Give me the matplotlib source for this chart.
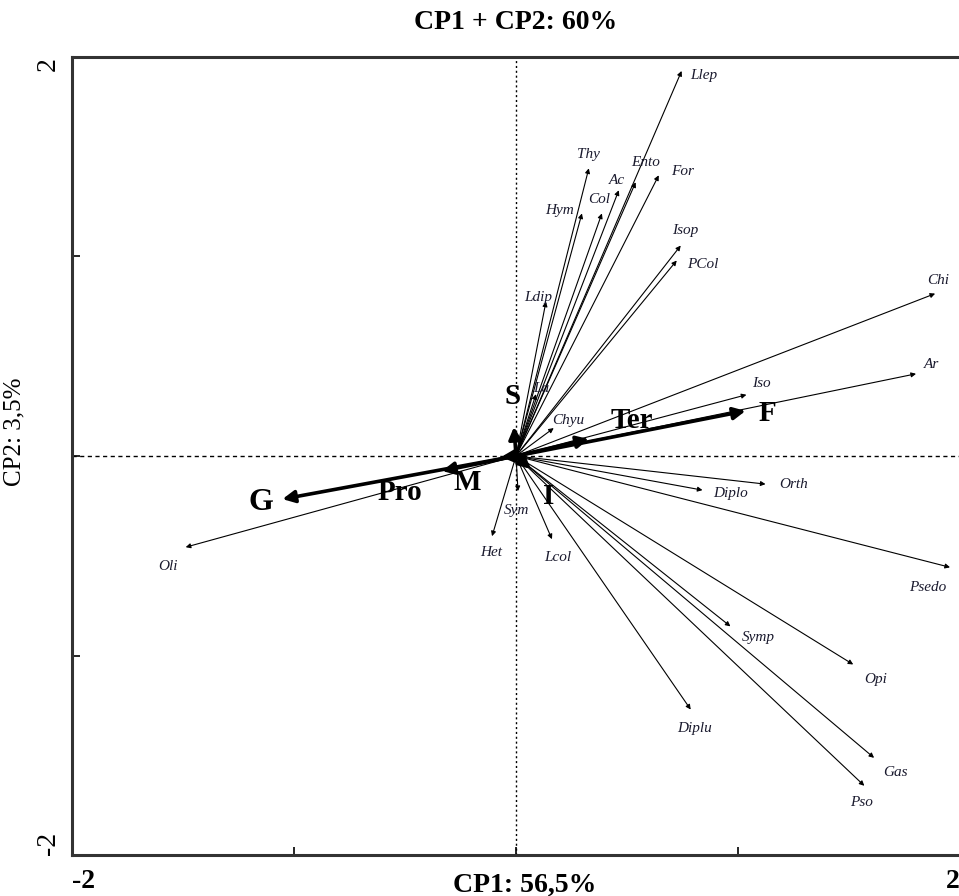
import numpy as np
import matplotlib.pyplot as plt

plt.rcParams['font.family'] = ['Liberation Serif', 'DejaVu Serif']

# species vectors (CP1, CP2)
especies = ['Llep', 'Thy', 'Ento', 'Ac', 'For', 'Col', 'Hym', 'Isop', 'PCol', 'Ldip',
            'Chi', 'Ar', 'Iso', 'Orth', 'Diplo', 'Psedo', 'Symp', 'Opi', 'Diplu',
            'Gas', 'Pso', 'Oli', 'Het', 'Sym', 'Lcol', 'La', 'Chyu']
cp1_esp = [0.746, 0.328, 0.539, 0.463, 0.643, 0.387, 0.297, 0.742, 0.724, 0.135,
           1.888, 1.802, 1.038, 1.124, 0.840, 1.955, 0.966, 1.519, 0.787,
           1.613, 1.569, -1.488, -0.108, 0.009, 0.162, 0.09, 0.17]
cp2_esp = [1.930, 1.442, 1.372, 1.332, 1.407, 1.216, 1.216, 1.055, 0.980, 0.774,
           0.814, 0.412, 0.307, -0.141, -0.171, -0.558, -0.854, -1.045, -1.271,
           -1.513, -1.653, -0.457, -0.402, -0.176, -0.417, 0.31, 0.14]

# environmental variables
variables = ['F', 'Ter', 'S', 'G', 'Pro', 'M', 'I']
cp1_var = [1.034, 0.328, -0.009, -1.052, -0.333, -0.067, 0.067]
cp2_var = [0.226, 0.085, 0.146, -0.216, -0.075, -0.005, -0.065]

# label offsets (pixels) from arrow tip
off_esp = [(22, -5), (0, 14), (10, 20), (-2, 10), (24, 4), (-3, 14), (-22, 3), (4, 15),
           (26, -4), (-8, 4), (3, 13), (15, 9), (15, 11), (28, 0), (28, -3), (-22, -20),
           (28, -11), (22, -15), (4, -19), (21, -15), (-3, -17), (-18, -19), (-1, -16),
           (-1, -19), (6, -18), (5, 6), (14, 8)]
off_var = [(22, -3), (43, 19), (-1, 30), (-22, -3), (-42, -22), (-34, -26), (18, -28)]
tam_var = [21, 21, 21, 23, 21, 21, 21]

fig = plt.figure(figsize=(9.59, 8.96), dpi=100)
ax = fig.add_axes([72 / 959, 41 / 896, (960 - 72) / 959, (855 - 57) / 896])
ax.set_xlim(-2, 2)
ax.set_ylim(-2, 2)

ax.axhline(0, color='black', lw=1, ls=(0, (3, 2.5)), zorder=1)
ax.axvline(0, color='black', lw=1, ls=(0, (1.5, 2)), zorder=1)

for nom, x, y, (dx, dy) in zip(especies, cp1_esp, cp2_esp, off_esp):
    ax.annotate('', xy=(x, y), xytext=(0, 0),
                arrowprops=dict(arrowstyle='-|>', color='black', lw=0.8,
                                mutation_scale=7, shrinkA=0, shrinkB=0))
    ax.annotate(nom, xy=(x, y), xytext=(dx, dy), textcoords='offset pixels',
                ha='center', va='center', fontsize=11, style='italic',
                color='#1a1a2e')

for nom, x, y, (dx, dy), t in zip(variables, cp1_var, cp2_var, off_var, tam_var):
    ax.annotate('', xy=(x, y), xytext=(0, 0),
                arrowprops=dict(arrowstyle='-|>', color='black', lw=2.6,
                                mutation_scale=18, shrinkA=0, shrinkB=0))
    ax.annotate(nom, xy=(x, y), xytext=(dx, dy), textcoords='offset pixels',
                ha='center', va='center', fontsize=t, fontweight='bold')

ax.set_xticks([-2, -1, 0, 1, 2])
ax.set_xticklabels(['-2', '', '', '', '2'])
ax.set_yticks([-2, -1, 0, 1, 2])
ax.set_yticklabels(['-2', '', '', '', '2'], rotation=90)
ax.tick_params(direction='in', length=6, width=1.2, labelsize=20, pad=8)
ax.tick_params(axis='x', pad=10)
for lab in ax.get_xticklabels():
    lab.set_fontweight('bold')
ax.get_xticklabels()[0].set_ha('left')
ax.get_xticklabels()[-1].set_ha('right')
ax.get_yticklabels()[0].set_va('bottom')
ax.get_yticklabels()[-1].set_va('top')

for s in ['left', 'bottom', 'top']:
    ax.spines[s].set_linewidth(2.2)
    ax.spines[s].set_color('#333333')
ax.spines['right'].set_visible(False)

ax.set_xlabel('CP1: 56,5%', fontsize=20, fontweight='bold')
ax.xaxis.set_label_coords(0.51, -0.022)
ax.set_ylabel('CP2: 3,5%', fontsize=18)
ax.yaxis.set_label_coords(-0.052, 0.53)
ax.set_title('CP1 + CP2: 60%', fontsize=20, fontweight='bold', pad=20)

fig.savefig('out.png', dpi=100)
